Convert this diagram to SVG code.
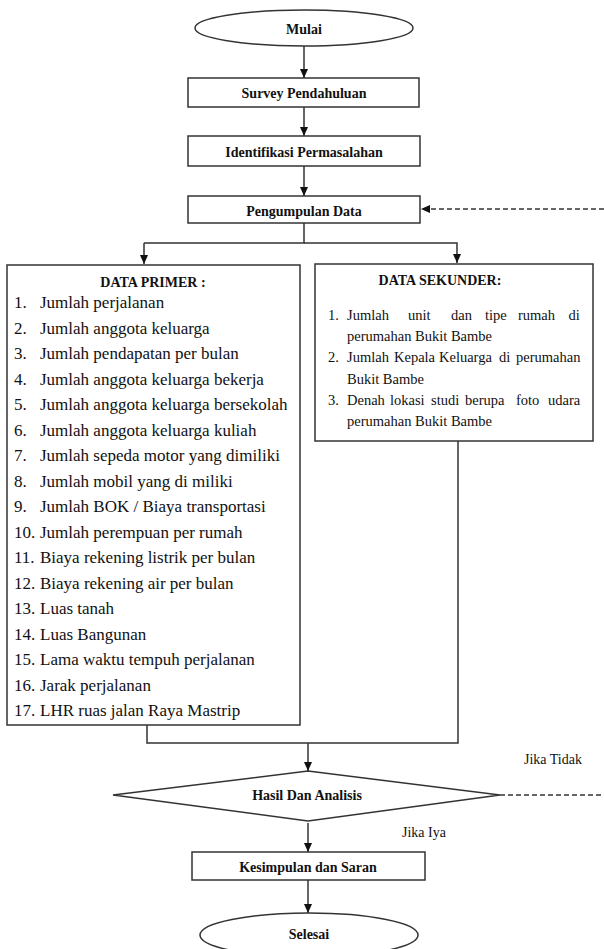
<svg xmlns="http://www.w3.org/2000/svg" width="604" height="949" viewBox="0 0 604 949">
<style>
.shape{fill:#fff;stroke:#333;stroke-width:1.5}
.ln{fill:none;stroke:#333;stroke-width:1.5}
.dash{fill:none;stroke:#333;stroke-width:1.5;stroke-dasharray:5 3}
text{font-family:'Liberation Serif','Tinos','Times New Roman','DejaVu Serif',serif;fill:#111}
.t{font-weight:bold;font-size:14px;text-anchor:middle}
.li{font-size:17px}
.ls{font-size:14.5px}
.lab{font-size:14px}
</style>
<defs>
<marker id="ah" markerWidth="10" markerHeight="10" refX="9" refY="5" orient="auto" markerUnits="userSpaceOnUse">
<path d="M0,1 L9,5 L0,9 Z" fill="#111"/>
</marker>
<clipPath id="c1"><rect x="188" y="196" width="232" height="23"/></clipPath>
<clipPath id="c2"><rect x="192" y="852" width="233" height="24"/></clipPath>
</defs>
<g id="connectors">
<line class="ln" x1="304" y1="46" x2="304" y2="78" marker-end="url(#ah)"/>
<line class="ln" x1="304" y1="107" x2="304" y2="136" marker-end="url(#ah)"/>
<line class="ln" x1="304" y1="166" x2="304" y2="196" marker-end="url(#ah)"/>
<line class="dash" x1="604" y1="209" x2="421" y2="209" marker-end="url(#ah)"/>
<polyline class="ln" points="304,223 304,243 144,243"/>
<line class="ln" x1="144" y1="243" x2="144" y2="264" marker-end="url(#ah)"/>
<polyline class="ln" points="304,243 457,243 457,263" marker-end="url(#ah)"/>
<polyline class="ln" points="147,725 147,743 458,743 458,441"/>
<line class="ln" x1="308" y1="743" x2="308" y2="771" marker-end="url(#ah)"/>
<line class="dash" x1="500" y1="795" x2="604" y2="795"/>
<line class="ln" x1="308" y1="823" x2="308" y2="852" marker-end="url(#ah)"/>
<line class="ln" x1="308" y1="880" x2="308" y2="913" marker-end="url(#ah)"/>
<text class="lab" x="524" y="764">Jika Tidak</text>
<text class="lab" x="402" y="837">Jika Iya</text>
</g>
<g id="mulai">
<ellipse class="shape" cx="304" cy="28" rx="109" ry="18"/>
<text class="t" x="304" y="34">Mulai</text>
</g>
<g id="survey">
<rect class="shape" x="188" y="78" width="231" height="29"/>
<text class="t" x="304" y="98">Survey Pendahuluan</text>
</g>
<g id="identifikasi">
<rect class="shape" x="188" y="136" width="232" height="30"/>
<text class="t" x="304" y="157">Identifikasi Permasalahan</text>
</g>
<g id="pengumpulan">
<rect class="shape" x="188" y="196" width="232" height="27"/>
<text class="t" x="304" y="216" clip-path="url(#c1)">Pengumpulan Data</text>
</g>
<g id="primer">
<rect class="shape" x="7" y="265" width="293" height="460"/>
<text class="t" x="153" y="287">DATA PRIMER :</text>
<text class="li" x="14" y="308">1.</text><text class="li" x="40" y="308">Jumlah perjalanan</text>
<text class="li" x="14" y="333.5">2.</text><text class="li" x="40" y="333.5">Jumlah anggota keluarga</text>
<text class="li" x="14" y="359">3.</text><text class="li" x="40" y="359">Jumlah pendapatan per bulan</text>
<text class="li" x="14" y="384.5">4.</text><text class="li" x="40" y="384.5">Jumlah anggota keluarga bekerja</text>
<text class="li" x="14" y="410">5.</text><text class="li" x="40" y="410">Jumlah anggota keluarga bersekolah</text>
<text class="li" x="14" y="435.5">6.</text><text class="li" x="40" y="435.5">Jumlah anggota keluarga kuliah</text>
<text class="li" x="14" y="461">7.</text><text class="li" x="40" y="461">Jumlah sepeda motor yang dimiliki</text>
<text class="li" x="14" y="486.5">8.</text><text class="li" x="40" y="486.5">Jumlah mobil yang di miliki</text>
<text class="li" x="14" y="512">9.</text><text class="li" x="40" y="512">Jumlah BOK / Biaya transportasi</text>
<text class="li" x="14" y="537.5">10.</text><text class="li" x="40" y="537.5">Jumlah perempuan per rumah</text>
<text class="li" x="14" y="563">11.</text><text class="li" x="40" y="563">Biaya rekening listrik per bulan</text>
<text class="li" x="14" y="588.5">12.</text><text class="li" x="40" y="588.5">Biaya rekening air per bulan</text>
<text class="li" x="14" y="614">13.</text><text class="li" x="40" y="614">Luas tanah</text>
<text class="li" x="14" y="639.5">14.</text><text class="li" x="40" y="639.5">Luas Bangunan</text>
<text class="li" x="14" y="665">15.</text><text class="li" x="40" y="665">Lama waktu tempuh perjalanan</text>
<text class="li" x="14" y="690.5">16.</text><text class="li" x="40" y="690.5">Jarak perjalanan</text>
<text class="li" x="14" y="716">17.</text><text class="li" x="40" y="716">LHR ruas jalan Raya Mastrip</text>
</g>
<g id="sekunder">
<rect class="shape" x="315" y="264" width="278" height="177"/>
<text class="t" x="440" y="285">DATA SEKUNDER:</text>
<text class="ls" x="328" y="320">1.</text>
<text class="ls" y="320"><tspan x="347">Jumlah</tspan><tspan x="408">unit</tspan><tspan x="451">dan</tspan><tspan x="485">tipe</tspan><tspan x="518">rumah</tspan><tspan x="568.5">di</tspan></text>
<text class="ls" x="347" y="341">perumahan Bukit Bambe</text>
<text class="ls" x="328" y="362">2.</text>
<text class="ls" y="362"><tspan x="347">Jumlah</tspan><tspan x="394">Kepala</tspan><tspan x="439">Keluarga</tspan><tspan x="499">di</tspan><tspan x="516">perumahan</tspan></text>
<text class="ls" x="347" y="384">Bukit Bambe</text>
<text class="ls" x="328" y="405">3.</text>
<text class="ls" y="405"><tspan x="347">Denah</tspan><tspan x="390">lokasi</tspan><tspan x="431">studi</tspan><tspan x="465">berupa</tspan><tspan x="516">foto</tspan><tspan x="548">udara</tspan></text>
<text class="ls" x="347" y="426">perumahan Bukit Bambe</text>
</g>
<g id="hasil">
<polygon class="shape" points="308,771 500,795 308,821 113,795"/>
<text class="t" x="307" y="800">Hasil Dan Analisis</text>
</g>
<g id="kesimpulan">
<rect class="shape" x="192" y="852" width="233" height="28"/>
<text class="t" x="308" y="872" clip-path="url(#c2)">Kesimpulan dan Saran</text>
</g>
<g id="selesai">
<ellipse class="shape" cx="309" cy="935" rx="109" ry="22"/>
<text class="t" x="309" y="939">Selesai</text>
</g>
</svg>
